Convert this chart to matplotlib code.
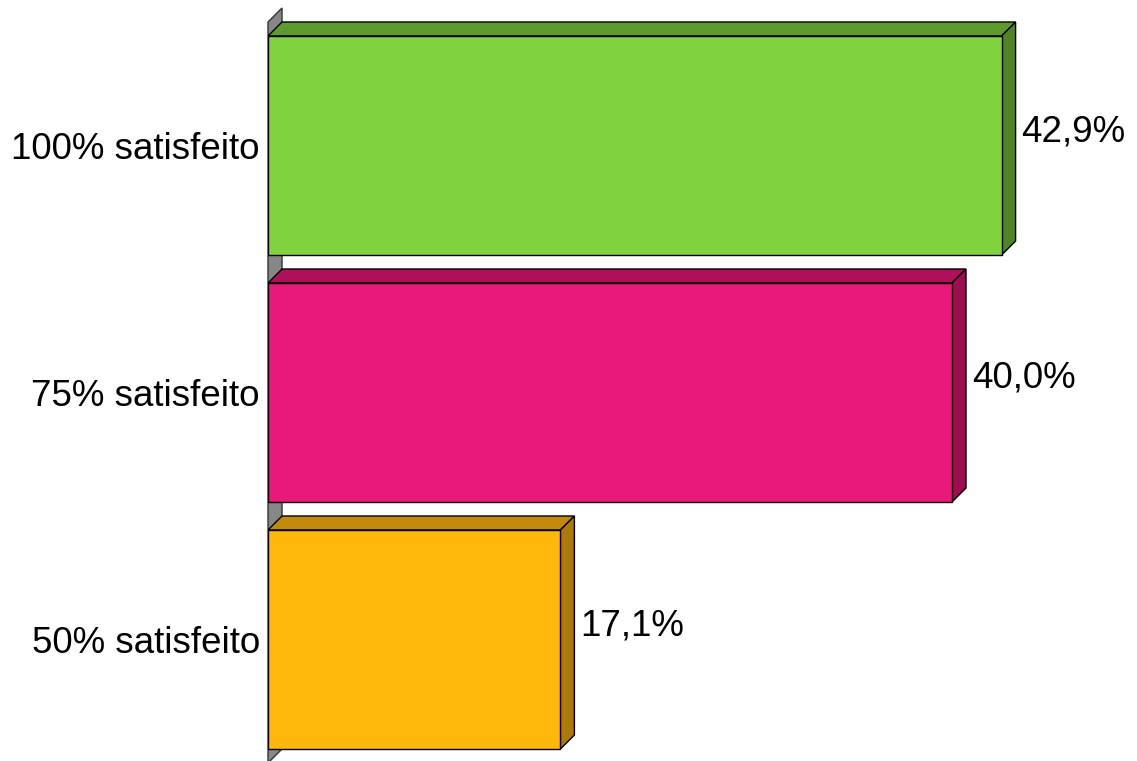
import matplotlib.pyplot as plt
from matplotlib.patches import Polygon

categories = ["100% satisfeito", "75% satisfeito", "50% satisfeito"]
values = [42.9, 40.0, 17.1]
labels = ["42,9%", "40,0%", "17,1%"]

front_colors = ["#80D23E", "#E8197A", "#FFB70C"]
top_colors = ["#5E9A2D", "#B00F5A", "#C28A0C"]
side_colors = ["#4F8524", "#9C0E50", "#AB7A08"]

plt.rcParams["font.family"] = ["Liberation Sans", "DejaVu Sans"]

fig = plt.figure(figsize=(11.37, 7.61), dpi=100)
ax = fig.add_axes([268 / 1137, 0, 869 / 1137, 1])

px_x = 17.1   # pixels per percent
px_y = 247.0  # pixels per category step
dx = 14 / px_x
dy = 14 / px_y
h = 219 / px_y

ax.set_xlim(0, 869 / px_x)
ax.set_ylim(2 + 121.5 / px_y, -145.5 / px_y)

# back wall
wall = Polygon([(0, -0.5), (dx, -0.5 - dy), (dx, 2.5 - dy), (0, 2.5)],
               closed=True, facecolor="#878787", edgecolor="#333333",
               linewidth=1, clip_on=False, zorder=1)
ax.add_patch(wall)

ypos = list(range(len(categories)))
ax.barh(ypos, values, height=h, color=front_colors, edgecolor="black",
        linewidth=1, zorder=3)

for y, v, tc, sc, lab in zip(ypos, values, top_colors, side_colors, labels):
    top = y - h / 2
    bot = y + h / 2
    ax.add_patch(Polygon([(0, top), (v, top), (v + dx, top - dy), (dx, top - dy)],
                         closed=True, facecolor=tc, edgecolor="black",
                         linewidth=1, zorder=2))
    ax.add_patch(Polygon([(v, top), (v + dx, top - dy), (v + dx, bot - dy), (v, bot)],
                         closed=True, facecolor=sc, edgecolor="black",
                         linewidth=1, zorder=2))
    ax.text(v + dx + 6 / px_x, y - dy, lab, fontsize=26.5,
            ha="left", va="center", color="black")

ax.set_yticks(ypos)
ax.set_yticklabels(categories, fontsize=26.5)
ax.tick_params(axis="y", length=0, pad=5.8)
ax.set_xticks([])
for s in ax.spines.values():
    s.set_visible(False)

fig.savefig("out.png", dpi=100)
